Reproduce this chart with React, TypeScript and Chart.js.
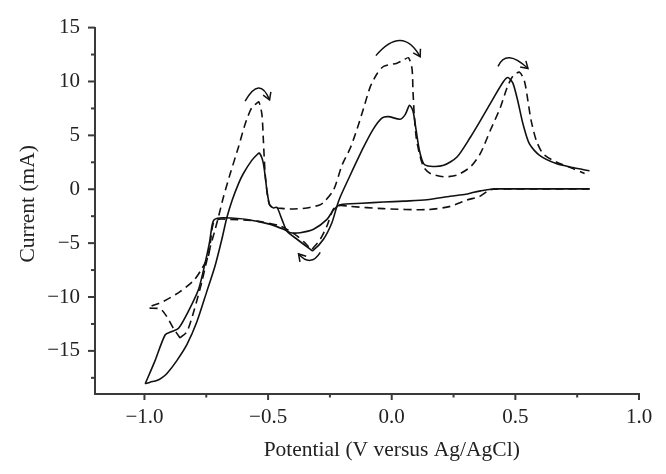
import React, { useEffect, useRef } from "react";
import { Chart, registerables } from "chart.js";

Chart.register(...registerables);

const SERIF = '"Liberation Serif", "Times New Roman", "DejaVu Serif", serif';
const INK = "#111111";
const AXIS = "#3a3a3a";

// ---------- axis settings ----------
const xMin = -1.2;
const xMax = 1.0;
const yMin = -19;
const yMax = 15;
const xTickValues = [-1.0, -0.75, -0.5, -0.25, 0.0, 0.25, 0.5, 0.75, 1.0];
const yTickValues = [-17.5, -15, -12.5, -10, -7.5, -5, -2.5, 0, 2.5, 5, 7.5, 10, 12.5, 15];
const xTitle = "Potential (V versus Ag/AgCl)";
const yTitle = "Current (mA)";

// ---------- solid curve: positive-going sweep ----------
const solidFwdX = [
  -0.997, -0.977, -0.95, -0.93, -0.909, -0.869, -0.828, -0.788, -0.748, -0.714,
  -0.687, -0.667, -0.645, -0.62, -0.6, -0.566, -0.545, -0.535, -0.519, -0.505,
  -0.494, -0.478, -0.464, -0.444, -0.424, -0.383, -0.33, -0.319, -0.276, -0.242,
  -0.222, -0.208, -0.168, -0.114, -0.074, -0.04, -0.013, 0.034, 0.055, 0.072,
  0.086, 0.099, 0.112, 0.129, 0.156, 0.21, 0.264, 0.318, 0.358, 0.412,
  0.452, 0.47, 0.49, 0.51, 0.531, 0.557, 0.598, 0.665, 0.733, 0.8,
];
const solidFwdY = [
  -18.05, -17.9, -17.75, -17.5, -17.1, -15.9, -14.4, -12.3, -9.5, -7.07,
  -4.64, -2.65, -1.0, 0.5, 1.46, 2.68, 3.2, 3.36, 2.38, -0.06,
  -1.43, -1.74, -1.68, -2.8, -3.87, -4.64, -5.55, -5.7, -4.64, -3.11,
  -1.59, -0.7, 1.3, 3.9, 5.6, 6.6, 6.74, 6.5, 6.95, 7.8,
  7.26, 5.43, 3.6, 2.38, 2.13, 2.22, 2.99, 4.82, 6.34, 8.48,
  10.0, 10.37, 9.85, 8.17, 6.04, 4.2, 3.14, 2.38, 2.01, 1.71,
];

// ---------- solid curve: negative-going sweep ----------
const solidRevX = [
  0.8, 0.6, 0.436, 0.4, 0.36, 0.328, 0.3, 0.237, 0.142, 0.05,
  -0.033, -0.12, -0.208, -0.235, -0.262, -0.316, -0.37, -0.41, -0.437, -0.49,
  -0.586, -0.68, -0.705, -0.72, -0.727, -0.737, -0.754, -0.78, -0.822, -0.862,
  -0.889, -0.916, -0.957, -0.997,
];
const solidRevY = [
  0.03, 0.03, 0.03, 0.0, -0.15, -0.3, -0.46, -0.65, -0.98, -1.1,
  -1.19, -1.3, -1.43, -1.9, -2.8, -3.72, -4.03, -4.03, -3.72, -3.26,
  -2.8, -2.65, -2.7, -2.87, -3.41, -4.94, -6.77, -9.2, -11.3, -12.9,
  -13.2, -13.5, -15.9, -18.05,
];

// ---------- dashed curve: positive-going sweep ----------
const dashFwdX = [
  -0.856, -0.828, -0.8, -0.768, -0.74, -0.714, -0.7, -0.68, -0.653, -0.62,
  -0.593, -0.566, -0.545, -0.537, -0.525, -0.519, -0.512, -0.502, -0.494, -0.478,
  -0.464, -0.41, -0.343, -0.289, -0.27, -0.235, -0.2, -0.168, -0.14, -0.114,
  -0.087, -0.06, -0.033, 0.021, 0.048, 0.068, 0.082, 0.086, 0.091, 0.099,
  0.112, 0.129, 0.156, 0.21, 0.264, 0.318, 0.358, 0.398, 0.439, 0.466,
  0.49, 0.517, 0.537, 0.551, 0.564, 0.585, 0.612, 0.665, 0.733, 0.78,
];
const dashFwdY = [
  -13.8, -13.2, -11.3, -8.6, -5.86, -3.72, -2.5, -0.67, 1.46, 3.9,
  6.04, 7.57, 8.0, 8.1, 6.95, 4.5, 1.46, -0.67, -1.43, -1.74,
  -1.74, -1.83, -1.74, -1.43, -1.1, -0.06, 2.3, 3.8, 5.6, 7.5,
  9.5, 10.7, 11.4, 11.7, 12.0, 12.2, 11.2, 9.1, 6.95, 4.82,
  3.3, 2.07, 1.46, 1.16, 1.31, 2.07, 3.3, 5.43, 7.57, 9.4,
  10.5, 10.86, 10.0, 8.17, 6.34, 4.5, 3.3, 2.53, 1.92, 1.46,
];

// ---------- dashed curve: negative-going sweep ----------
const dashRevX = [
  0.8, 0.6, 0.42, 0.396, 0.385, 0.355, 0.304, 0.237, 0.142, -0.033,
  -0.168, -0.208, -0.235, -0.262, -0.289, -0.316, -0.325, -0.35, -0.383, -0.451,
  -0.545, -0.653, -0.707, -0.722, -0.73, -0.741, -0.768, -0.8, -0.856, -0.923,
  -0.984, -0.936, -0.91, -0.883, -0.856,
];
const dashRevY = [
  0.03, 0.03, 0.03, -0.06, -0.21, -0.67, -1.0, -1.59, -1.89, -1.8,
  -1.59, -1.5, -1.8, -3.41, -4.64, -5.4, -5.6, -5.0, -4.33, -3.41,
  -2.96, -2.8, -2.8, -3.2, -4.3, -6.16, -7.38, -8.45, -9.5, -10.4,
  -11.0, -11.1, -11.8, -12.9, -13.8,
];

// ---------- curved arrows (start, middle, end) ----------
const arrowXs = [
  [-0.593, -0.539, -0.494],
  [-0.064, 0.034, 0.115],
  [0.43, 0.477, 0.551],
  [-0.289, -0.33, -0.377],
];
const arrowYs = [
  [8.17, 9.4, 8.3],
  [12.4, 13.8, 12.3],
  [11.4, 12.2, 11.2],
  [-5.86, -6.6, -6.0],
];

const toPoints = (xs: number[], ys: number[]) => xs.map((x, i) => ({ x, y: ys[i] }));

const isMultiple = (v: number, step: number) =>
  Math.abs(v / step - Math.round(v / step)) < 1e-6;

const fmt = (v: number, digits: number) => {
  const s = Math.abs(v).toFixed(digits);
  return v < -1e-9 ? "\u2212" + s : s;
};

const ticksPlugin = {
  id: "customTicks",
  afterDraw(chart: any) {
    const ctx = chart.ctx;
    const xs = chart.scales.x;
    const ys = chart.scales.y;
    const { left, bottom } = chart.chartArea;
    ctx.save();
    ctx.strokeStyle = AXIS;
    ctx.lineWidth = 2;
    xs.ticks.forEach((t: any) => {
      const v = t.value;
      const major = isMultiple(v, 0.5);
      const px = xs.getPixelForValue(v);
      ctx.beginPath();
      ctx.moveTo(px, bottom);
      ctx.lineTo(px, bottom + (major ? 6 : 3.5));
      ctx.stroke();
    });
    ys.ticks.forEach((t: any) => {
      const v = t.value;
      const major = isMultiple(v, 5);
      const py = ys.getPixelForValue(v);
      ctx.beginPath();
      ctx.moveTo(left, py);
      ctx.lineTo(left - (major ? 7 : 4), py);
      ctx.stroke();
    });
    ctx.restore();
  },
};

const titlesPlugin = {
  id: "axisTitles",
  afterDraw(chart: any) {
    const ctx = chart.ctx;
    const xs = chart.scales.x;
    const { top, bottom } = chart.chartArea;
    ctx.save();
    ctx.fillStyle = "#222";
    ctx.font = `21.5px ${SERIF}`;
    ctx.textAlign = "center";
    ctx.textBaseline = "alphabetic";
    ctx.fillText(xTitle, xs.getPixelForValue(0), bottom + 62);
    ctx.translate(33.5, (top + bottom) / 2 - 7);
    ctx.rotate(-Math.PI / 2);
    ctx.fillText(yTitle, 0, 0);
    ctx.restore();
  },
};

const arrowsPlugin = {
  id: "curvedArrows",
  afterDatasetsDraw(chart: any) {
    const ctx = chart.ctx;
    const xs = chart.scales.x;
    const ys = chart.scales.y;
    ctx.save();
    ctx.strokeStyle = INK;
    ctx.lineWidth = 1.5;
    ctx.setLineDash([]);
    arrowXs.forEach((ax, i) => {
      const ay = arrowYs[i];
      const s = { x: xs.getPixelForValue(ax[0]), y: ys.getPixelForValue(ay[0]) };
      const m = { x: xs.getPixelForValue(ax[1]), y: ys.getPixelForValue(ay[1]) };
      const e = { x: xs.getPixelForValue(ax[2]), y: ys.getPixelForValue(ay[2]) };
      const c = { x: 2 * m.x - (s.x + e.x) / 2, y: 2 * m.y - (s.y + e.y) / 2 };
      ctx.beginPath();
      ctx.moveTo(s.x, s.y);
      ctx.quadraticCurveTo(c.x, c.y, e.x, e.y);
      ctx.stroke();
      const ang = Math.atan2(e.y - c.y, e.x - c.x);
      const len = 8;
      const spread = 0.55;
      ctx.beginPath();
      ctx.moveTo(e.x - len * Math.cos(ang - spread), e.y - len * Math.sin(ang - spread));
      ctx.lineTo(e.x, e.y);
      ctx.lineTo(e.x - len * Math.cos(ang + spread), e.y - len * Math.sin(ang + spread));
      ctx.stroke();
    });
    ctx.restore();
  },
};

export default function App() {
  const canvasRef = useRef<HTMLCanvasElement | null>(null);

  useEffect(() => {
    if (!canvasRef.current) return;
    const lineBase = {
      showLine: true,
      pointRadius: 0,
      pointHoverRadius: 0,
      borderColor: INK,
      borderWidth: 1.6,
      tension: 0.25,
      fill: false,
    };
    const chart = new Chart(canvasRef.current, {
      type: "scatter",
      data: {
        datasets: [
          { ...lineBase, label: "solid forward", data: toPoints(solidFwdX, solidFwdY) },
          { ...lineBase, label: "solid reverse", data: toPoints(solidRevX, solidRevY) },
          { ...lineBase, label: "dashed forward", data: toPoints(dashFwdX, dashFwdY), borderDash: [8, 5] },
          { ...lineBase, label: "dashed reverse", data: toPoints(dashRevX, dashRevY), borderDash: [8, 5] },
        ],
      },
      options: {
        animation: false,
        responsive: false,
        devicePixelRatio: 1,
        layout: { padding: { top: 22, right: 27, left: 0, bottom: 0 } },
        plugins: {
          legend: { display: false },
          tooltip: { enabled: false },
        },
        scales: {
          x: {
            type: "linear",
            min: xMin,
            max: xMax,
            grid: { display: false, drawTicks: false },
            border: { display: true, color: AXIS, width: 2 },
            afterBuildTicks: (s: any) => {
              s.ticks = xTickValues.map((value) => ({ value }));
            },
            ticks: {
              autoSkip: false,
              maxRotation: 0,
              padding: 11,
              color: "#222",
              font: { family: SERIF, size: 21 },
              callback: (v: any) => {
                const n = Number(v);
                return isMultiple(n, 0.5) ? fmt(n, 1) : "";
              },
            },
            afterFit: (s: any) => {
              s.height = 80;
            },
          },
          y: {
            type: "linear",
            min: yMin,
            max: yMax,
            grid: { display: false, drawTicks: false },
            border: { display: true, color: AXIS, width: 2 },
            afterBuildTicks: (s: any) => {
              s.ticks = yTickValues.map((value) => ({ value }));
            },
            ticks: {
              autoSkip: false,
              padding: 15,
              color: "#222",
              font: { family: SERIF, size: 21 },
              callback: (v: any) => {
                const n = Number(v);
                return isMultiple(n, 5) ? fmt(n, 0) : "";
              },
            },
            afterFit: (s: any) => {
              s.width = 95;
            },
          },
        },
      },
      plugins: [ticksPlugin, arrowsPlugin, titlesPlugin],
    });
    return () => chart.destroy();
  }, []);

  return (
    <div style={{ position: "fixed", left: 0, top: 0, width: 666, height: 474, background: "#fff" }}>
      <canvas ref={canvasRef} width={666} height={474} style={{ display: "block" }} />
    </div>
  );
}
